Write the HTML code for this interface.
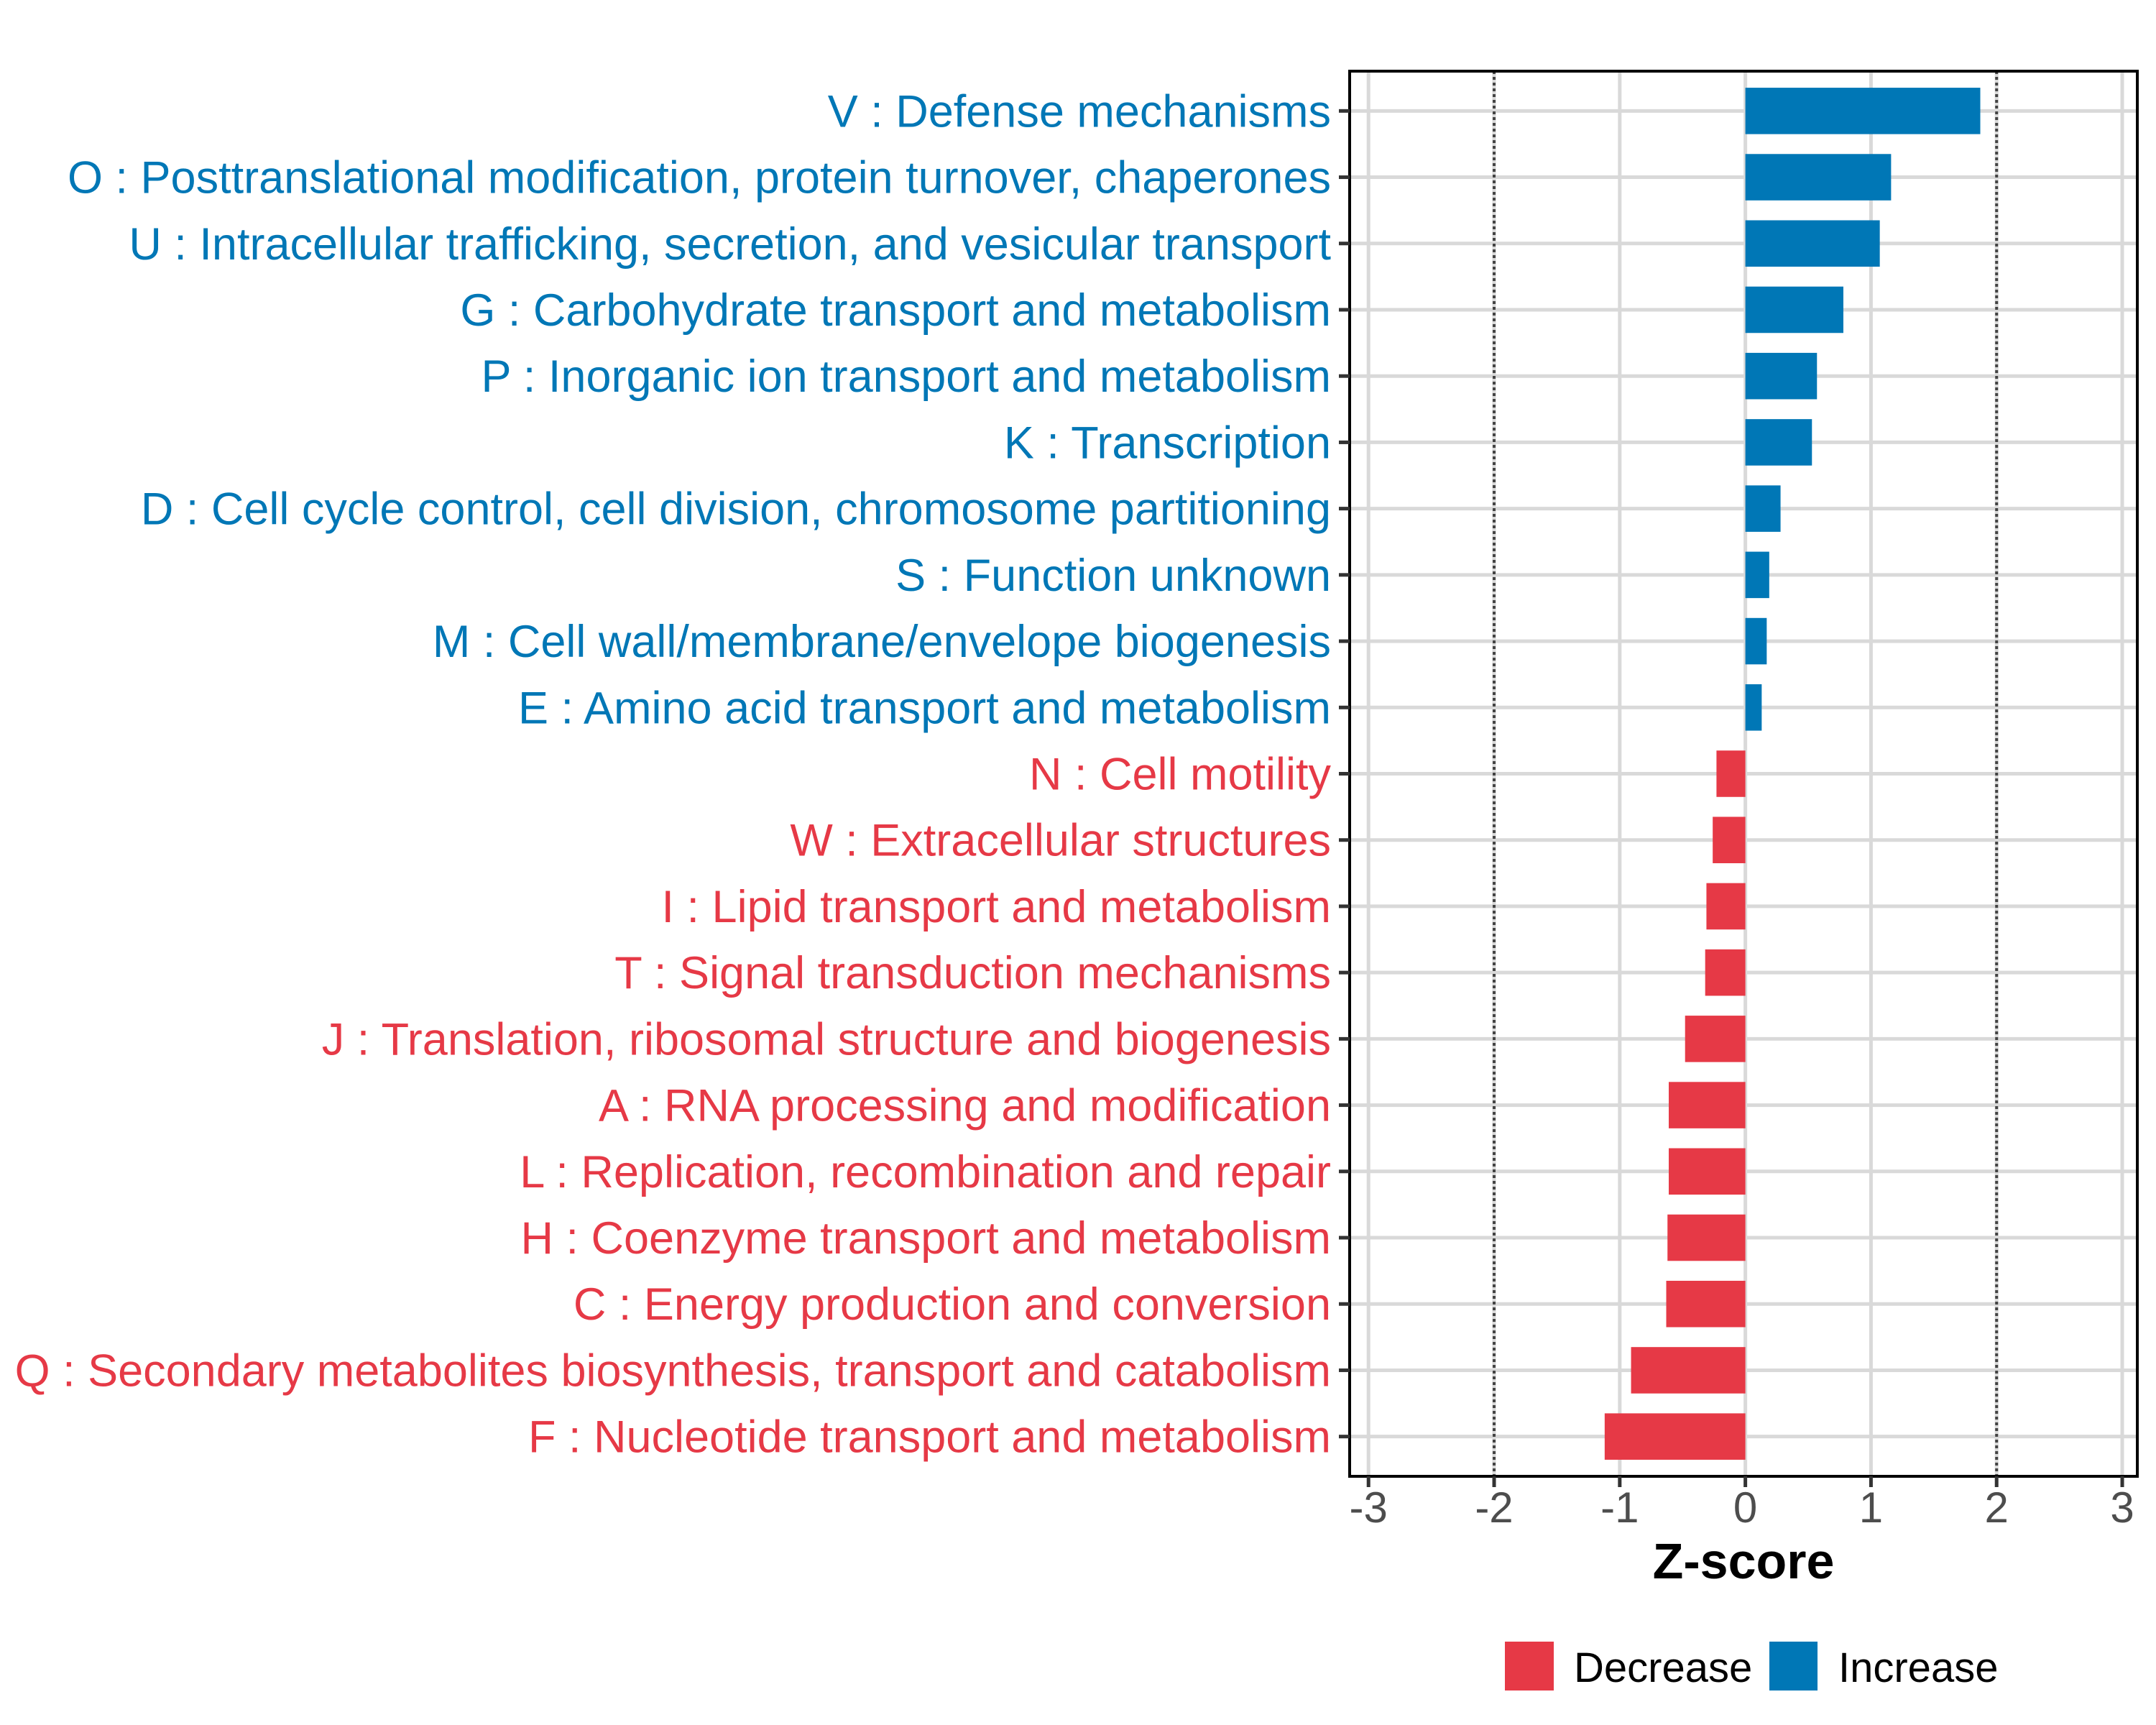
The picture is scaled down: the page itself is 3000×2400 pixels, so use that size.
<!DOCTYPE html>
<html><head><meta charset="utf-8"><style>
html,body{margin:0;padding:0;background:#fff}
svg{display:block;font-family:"Liberation Sans",Arial,sans-serif}
</style></head><body>
<svg id="chart" width="3000" height="2400" viewBox="0 0 3000 2400" xmlns="http://www.w3.org/2000/svg">
<rect width="3000" height="2400" fill="#fff"/>
<g id="grid"></g>
<g id="bars"></g>
<g id="axes"></g>
<text x="2426" y="2196" text-anchor="middle" font-size="70" font-weight="bold" fill="#000">Z-score</text>
<g>
<rect x="2094" y="2284" width="68" height="68" fill="#e63946"/>
<text x="2190" y="2340" font-size="58" fill="#000">Decrease</text>
<rect x="2462" y="2284" width="67" height="68" fill="#0077b6"/>
<text x="2558" y="2340" font-size="58" fill="#000">Increase</text>
</g>
</svg>
<script>
const categories = ["V : Defense mechanisms","O : Posttranslational modification, protein turnover, chaperones","U : Intracellular trafficking, secretion, and vesicular transport","G : Carbohydrate transport and metabolism","P : Inorganic ion transport and metabolism","K : Transcription","D : Cell cycle control, cell division, chromosome partitioning","S : Function unknown","M : Cell wall/membrane/envelope biogenesis","E : Amino acid transport and metabolism","N : Cell motility","W : Extracellular structures","I : Lipid transport and metabolism","T : Signal transduction mechanisms","J : Translation, ribosomal structure and biogenesis","A : RNA processing and modification","L : Replication, recombination and repair","H : Coenzyme transport and metabolism","C : Energy production and conversion","Q : Secondary metabolites biosynthesis, transport and catabolism","F : Nucleotide transport and metabolism"];
const zscores = [1.87,1.16,1.07,0.78,0.57,0.53,0.28,0.19,0.17,0.13,-0.23,-0.26,-0.31,-0.32,-0.48,-0.61,-0.61,-0.62,-0.63,-0.91,-1.12];
const xTicks = [-3,-2,-1,0,1,2,3];
const xTickLabels = ["-3","-2","-1","0","1","2","3"];
const refLines = [-2,2];

const NS="http://www.w3.org/2000/svg";
const P={l:1878,r:2974,t:99,b:2054};
const xMin=-3.15, xMax=3.12;
function xs(v){return P.l+(v-xMin)/(xMax-xMin)*(P.r-P.l);}
const step=(P.b-P.t)/(categories.length-1+1.2);
function ys(i){return P.t+step*0.6+i*step;}
function mk(tag,attrs,parent){const e=document.createElementNS(NS,tag);for(const k in attrs)e.setAttribute(k,attrs[k]);parent.appendChild(e);return e;}
const grid=document.getElementById('grid'),bars=document.getElementById('bars'),axes=document.getElementById('axes');
xTicks.forEach((t,i)=>{
  const l=mk('line',{x1:xs(t),x2:xs(t),y1:P.t,y2:P.b,stroke:'#d9d9d9','stroke-width':5},grid);
  
  
});
categories.forEach((c,i)=>{
  const l=mk('line',{x1:P.l,x2:P.r,y1:ys(i),y2:ys(i),stroke:'#d9d9d9','stroke-width':5},grid);
  
  
});
refLines.forEach(v=>{
  const l=mk('line',{x1:xs(v),x2:xs(v),y1:P.t,y2:P.b,stroke:'#444','stroke-width':4,'stroke-dasharray':'4 4'},grid);
  
  
});
const bh=step*0.7;
zscores.forEach((v,i)=>{
  const x0=xs(Math.min(0,v)),x1=xs(Math.max(0,v));
  const r=mk('rect',{x:x0,y:ys(i)-bh/2,width:x1-x0,height:bh,fill:v>=0?'#0077b6':'#e63946'},bars);
  
  
});
mk('rect',{x:P.l,y:P.t,width:P.r-P.l,height:P.b-P.t,fill:'none',stroke:'#000','stroke-width':4},axes);
categories.forEach((c,i)=>{
  const tk=mk('line',{x1:P.l-15,x2:P.l,y1:ys(i),y2:ys(i),stroke:'#333','stroke-width':5},axes);
  
  
  const t=mk('text',{x:1852,y:ys(i)+22,'text-anchor':'end','font-size':63,fill:zscores[i]>=0?'#0077b6':'#e63946'},axes);
  t.textContent=c;
  
  
});
xTicks.forEach((t,i)=>{
  const tk=mk('line',{x1:xs(t),x2:xs(t),y1:P.b,y2:P.b+15,stroke:'#333','stroke-width':5},axes);
  
  
  const lb=mk('text',{x:xs(t),y:P.b+64,'text-anchor':'middle','font-size':60,fill:'#4d4d4d'},axes);
  lb.textContent=xTickLabels[i];
  
  
});
</script>
</body></html>
